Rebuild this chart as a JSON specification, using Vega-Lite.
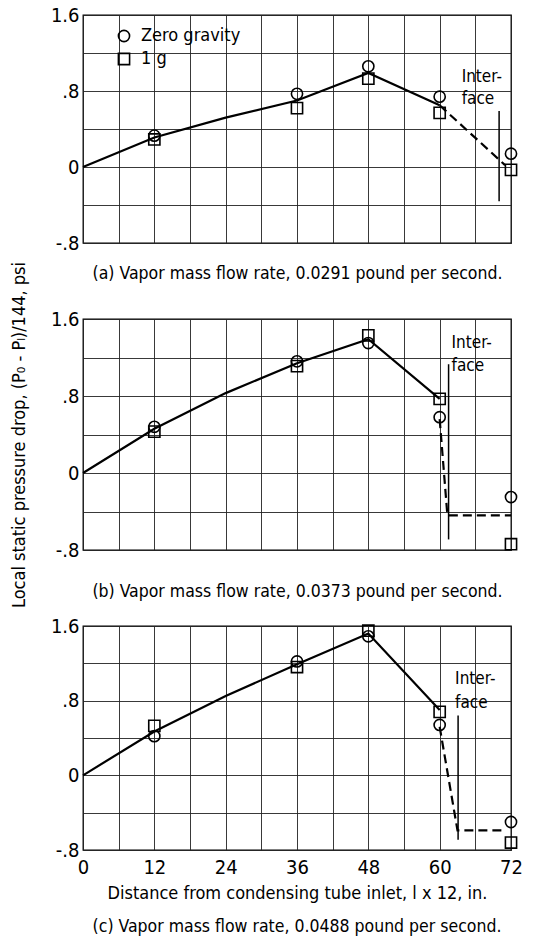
{
  "$schema": "https://vega.github.io/schema/vega-lite/v6.json",
  "background": "white",
  "padding": {"top": 4, "left": 9, "right": 10, "bottom": 4},
  "spacing": 76,
  "bounds": "flush",
  "config": {
    "font": "Liberation Sans Narrow, DejaVu Sans Condensed, sans-serif",
    "view": {"stroke": "black", "strokeWidth": 1.3},
    "axis": {"grid": true, "gridColor": "#222", "gridWidth": 0.9, "gridOpacity": 1, "ticks": false, "domain": false, "labelFontSize": 20, "labelColor": "black", "titleColor": "black", "titleFontSize": 18, "titleFontWeight": "normal", "labelFont": "Liberation Sans Narrow, DejaVu Sans Condensed, sans-serif", "titleFont": "Liberation Sans Narrow, DejaVu Sans Condensed, sans-serif"},
    "title": {"fontSize": 17.5, "fontWeight": "normal", "color": "black", "font": "Liberation Sans Narrow, DejaVu Sans Condensed, sans-serif"},
    "legend": {"labelFontSize": 18, "labelColor": "black", "labelFont": "Liberation Sans Narrow, DejaVu Sans Condensed, sans-serif"}
  },
  "resolve": {"legend": {"shape": "independent"}, "scale": {"shape": "independent"}},
  "datasets": {
    "pts": [
      {"panel": "a", "series": "Zero gravity", "x": 12, "y": 0.33},
      {"panel": "a", "series": "Zero gravity", "x": 36, "y": 0.77},
      {"panel": "a", "series": "Zero gravity", "x": 48, "y": 1.06},
      {"panel": "a", "series": "Zero gravity", "x": 60, "y": 0.74},
      {"panel": "a", "series": "Zero gravity", "x": 72, "y": 0.14},
      {"panel": "a", "series": "1 g", "x": 12, "y": 0.29},
      {"panel": "a", "series": "1 g", "x": 36, "y": 0.62},
      {"panel": "a", "series": "1 g", "x": 48, "y": 0.93},
      {"panel": "a", "series": "1 g", "x": 60, "y": 0.57},
      {"panel": "a", "series": "1 g", "x": 72, "y": -0.03},
      {"panel": "b", "series": "Zero gravity", "x": 12, "y": 0.48},
      {"panel": "b", "series": "Zero gravity", "x": 36, "y": 1.16},
      {"panel": "b", "series": "Zero gravity", "x": 48, "y": 1.35},
      {"panel": "b", "series": "Zero gravity", "x": 60, "y": 0.58},
      {"panel": "b", "series": "Zero gravity", "x": 72, "y": -0.25},
      {"panel": "b", "series": "1 g", "x": 12, "y": 0.43},
      {"panel": "b", "series": "1 g", "x": 36, "y": 1.11},
      {"panel": "b", "series": "1 g", "x": 48, "y": 1.43},
      {"panel": "b", "series": "1 g", "x": 60, "y": 0.77},
      {"panel": "b", "series": "1 g", "x": 72, "y": -0.74},
      {"panel": "c", "series": "Zero gravity", "x": 12, "y": 0.42},
      {"panel": "c", "series": "Zero gravity", "x": 36, "y": 1.22},
      {"panel": "c", "series": "Zero gravity", "x": 48, "y": 1.49},
      {"panel": "c", "series": "Zero gravity", "x": 60, "y": 0.54},
      {"panel": "c", "series": "Zero gravity", "x": 72, "y": -0.5},
      {"panel": "c", "series": "1 g", "x": 12, "y": 0.53},
      {"panel": "c", "series": "1 g", "x": 36, "y": 1.16},
      {"panel": "c", "series": "1 g", "x": 48, "y": 1.55},
      {"panel": "c", "series": "1 g", "x": 60, "y": 0.68},
      {"panel": "c", "series": "1 g", "x": 72, "y": -0.72}
    ],
    "curves": [
      {"panel": "a", "seg": "solid", "x": 0, "y": 0},
      {"panel": "a", "seg": "solid", "x": 12, "y": 0.31},
      {"panel": "a", "seg": "solid", "x": 24, "y": 0.52},
      {"panel": "a", "seg": "solid", "x": 36, "y": 0.7},
      {"panel": "a", "seg": "solid", "x": 48, "y": 0.99},
      {"panel": "a", "seg": "solid", "x": 60, "y": 0.65},
      {"panel": "a", "seg": "dashed", "x": 60, "y": 0.65},
      {"panel": "a", "seg": "dashed", "x": 71, "y": 0.02},
      {"panel": "b", "seg": "solid", "x": 0, "y": 0},
      {"panel": "b", "seg": "solid", "x": 12, "y": 0.46},
      {"panel": "b", "seg": "solid", "x": 24, "y": 0.83},
      {"panel": "b", "seg": "solid", "x": 36, "y": 1.14},
      {"panel": "b", "seg": "solid", "x": 48, "y": 1.39},
      {"panel": "b", "seg": "solid", "x": 60, "y": 0.77},
      {"panel": "b", "seg": "dashed", "x": 60, "y": 0.56},
      {"panel": "b", "seg": "dashed", "x": 61.3, "y": -0.44},
      {"panel": "b", "seg": "dashed", "x": 72, "y": -0.44},
      {"panel": "c", "seg": "solid", "x": 0, "y": 0},
      {"panel": "c", "seg": "solid", "x": 12, "y": 0.47},
      {"panel": "c", "seg": "solid", "x": 24, "y": 0.85},
      {"panel": "c", "seg": "solid", "x": 36, "y": 1.19},
      {"panel": "c", "seg": "solid", "x": 48, "y": 1.52},
      {"panel": "c", "seg": "solid", "x": 60, "y": 0.7},
      {"panel": "c", "seg": "dashed", "x": 60, "y": 0.52},
      {"panel": "c", "seg": "dashed", "x": 63, "y": -0.59},
      {"panel": "c", "seg": "dashed", "x": 71, "y": -0.59}
    ],
    "iface": [
      {"panel": "a", "x": 70, "y": 0.59, "y2": -0.36},
      {"panel": "b", "x": 61.5, "y": 1.13, "y2": -0.69},
      {"panel": "c", "x": 63.1, "y": 0.64, "y2": -0.69}
    ],
    "labels": [
      {"panel": "a", "x": 63.7, "y": 0.95, "text": "Inter-"},
      {"panel": "a", "x": 63.7, "y": 0.72, "text": "face"},
      {"panel": "b", "x": 62, "y": 1.35, "text": "Inter-"},
      {"panel": "b", "x": 62, "y": 1.11, "text": "face"},
      {"panel": "c", "x": 62.6, "y": 1.03, "text": "Inter-"},
      {"panel": "c", "x": 62.6, "y": 0.78, "text": "face"}
    ]
  },
  "vconcat": [
    {
      "width": 428, "height": 228,
      "layer": [
        {"mark": {"type": "rule", "color": "black", "strokeWidth": 2.2}, "encoding": {"y": {"datum": 0, "type": "quantitative", "scale": {"domain": [-0.8, 1.6], "nice": false, "zero": false}, "axis": {"title": null, "grid": true, "tickCount": 20, "values": [-0.8, -0.4, 0, 0.4, 0.8, 1.2, 1.6], "labelExpr": "datum.value == 1.6 ? '1.6' : datum.value == 0.8 ? '.8' : datum.value == 0 ? '0' : datum.value == -0.8 ? '-.8' : ''", "labelPadding": 4}}, "x": {"datum": 0, "type": "quantitative", "scale": {"domain": [0, 72], "nice": false}, "axis": {"title": "(a) Vapor mass flow rate, 0.0291 pound per second.", "titleFontSize": 17.5, "titlePadding": 21, "grid": true, "tickCount": 20, "values": [0, 6, 12, 18, 24, 30, 36, 42, 48, 54, 60, 66, 72], "labels": false}}, "x2": {"datum": 72}}},
        {"data": {"name": "curves"}, "transform": [{"filter": "datum.panel == 'a' && datum.seg == 'solid'"}], "mark": {"type": "line", "color": "black", "strokeWidth": 2.2}, "encoding": {"x": {"field": "x", "type": "quantitative"}, "y": {"field": "y", "type": "quantitative"}}},
        {"data": {"name": "curves"}, "transform": [{"filter": "datum.panel == 'a' && datum.seg == 'dashed'"}], "mark": {"type": "line", "color": "black", "strokeWidth": 2.2, "strokeDash": [9, 5]}, "encoding": {"x": {"field": "x", "type": "quantitative"}, "y": {"field": "y", "type": "quantitative"}}},
        {"data": {"name": "iface"}, "transform": [{"filter": "datum.panel == 'a'"}], "mark": {"type": "rule", "color": "black", "strokeWidth": 1.5}, "encoding": {"x": {"field": "x", "type": "quantitative"}, "y": {"field": "y", "type": "quantitative"}, "y2": {"field": "y2"}}},
        {"data": {"name": "labels"}, "transform": [{"filter": "datum.panel == 'a'"}], "mark": {"type": "text", "align": "left", "baseline": "middle", "fontSize": 17, "color": "black"}, "encoding": {"x": {"field": "x", "type": "quantitative"}, "y": {"field": "y", "type": "quantitative"}, "text": {"field": "text"}}},
        {"data": {"name": "pts"}, "transform": [{"filter": "datum.panel == 'a'"}], "mark": {"type": "point", "filled": false, "color": "black", "strokeWidth": 1.6, "size": 125, "opacity": 1}, "encoding": {"x": {"field": "x", "type": "quantitative"}, "y": {"field": "y", "type": "quantitative"}, "shape": {"field": "series", "type": "nominal", "scale": {"domain": ["Zero gravity", "1 g"], "range": ["circle", "square"]}, "legend": {"title": null, "orient": "none", "legendX": 32, "legendY": 12, "symbolStrokeColor": "black", "symbolStrokeWidth": 1.6, "symbolSize": 125, "symbolFillColor": "transparent", "rowPadding": 5, "labelOffset": 8}}}}
      ]
    },
    {
      "width": 428, "height": 231,
      "layer": [
        {"mark": {"type": "rule", "color": "black", "strokeWidth": 2.2}, "encoding": {"y": {"datum": 0, "type": "quantitative", "scale": {"domain": [-0.8, 1.6], "nice": false, "zero": false}, "axis": {"title": "Local static pressure drop, (P₀ - Pₗ)/144, psi", "grid": true, "tickCount": 20, "titlePadding": 22, "values": [-0.8, -0.4, 0, 0.4, 0.8, 1.2, 1.6], "labelExpr": "datum.value == 1.6 ? '1.6' : datum.value == 0.8 ? '.8' : datum.value == 0 ? '0' : datum.value == -0.8 ? '-.8' : ''", "labelPadding": 4}}, "x": {"datum": 0, "type": "quantitative", "scale": {"domain": [0, 72], "nice": false}, "axis": {"title": "(b) Vapor mass flow rate, 0.0373 pound per second.", "titleFontSize": 17.5, "titlePadding": 32, "grid": true, "tickCount": 20, "values": [0, 6, 12, 18, 24, 30, 36, 42, 48, 54, 60, 66, 72], "labels": false}}, "x2": {"datum": 72}}},
        {"data": {"name": "curves"}, "transform": [{"filter": "datum.panel == 'b' && datum.seg == 'solid'"}], "mark": {"type": "line", "color": "black", "strokeWidth": 2.2}, "encoding": {"x": {"field": "x", "type": "quantitative"}, "y": {"field": "y", "type": "quantitative"}}},
        {"data": {"name": "curves"}, "transform": [{"filter": "datum.panel == 'b' && datum.seg == 'dashed'"}], "mark": {"type": "line", "color": "black", "strokeWidth": 2.2, "strokeDash": [9, 5]}, "encoding": {"x": {"field": "x", "type": "quantitative"}, "y": {"field": "y", "type": "quantitative"}}},
        {"data": {"name": "iface"}, "transform": [{"filter": "datum.panel == 'b'"}], "mark": {"type": "rule", "color": "black", "strokeWidth": 1.5}, "encoding": {"x": {"field": "x", "type": "quantitative"}, "y": {"field": "y", "type": "quantitative"}, "y2": {"field": "y2"}}},
        {"data": {"name": "labels"}, "transform": [{"filter": "datum.panel == 'b'"}], "mark": {"type": "text", "align": "left", "baseline": "middle", "fontSize": 17, "color": "black"}, "encoding": {"x": {"field": "x", "type": "quantitative"}, "y": {"field": "y", "type": "quantitative"}, "text": {"field": "text"}}},
        {"data": {"name": "pts"}, "transform": [{"filter": "datum.panel == 'b'"}], "mark": {"type": "point", "filled": false, "color": "black", "strokeWidth": 1.6, "size": 125, "opacity": 1}, "encoding": {"x": {"field": "x", "type": "quantitative"}, "y": {"field": "y", "type": "quantitative"}, "shape": {"field": "series", "type": "nominal", "scale": {"domain": ["Zero gravity", "1 g"], "range": ["circle", "square"]}, "legend": null}}}
      ]
    },
    {
      "width": 428, "height": 224,
      "title": {"text": "(c) Vapor mass flow rate, 0.0488 pound per second.", "orient": "bottom", "offset": 16},
      "layer": [
        {"mark": {"type": "rule", "color": "black", "strokeWidth": 2.2}, "encoding": {"y": {"datum": 0, "type": "quantitative", "scale": {"domain": [-0.8, 1.6], "nice": false, "zero": false}, "axis": {"title": null, "grid": true, "tickCount": 20, "values": [-0.8, -0.4, 0, 0.4, 0.8, 1.2, 1.6], "labelExpr": "datum.value == 1.6 ? '1.6' : datum.value == 0.8 ? '.8' : datum.value == 0 ? '0' : datum.value == -0.8 ? '-.8' : ''", "labelPadding": 4}}, "x": {"datum": 0, "type": "quantitative", "scale": {"domain": [0, 72], "nice": false}, "axis": {"title": "Distance from condensing tube inlet, l x 12, in.", "grid": true, "tickCount": 20, "titlePadding": 7, "values": [0, 6, 12, 18, 24, 30, 36, 42, 48, 54, 60, 66, 72], "labelExpr": "datum.value % 12 == 0 ? datum.label : ''", "labelPadding": 7, "labelFlush": false}}, "x2": {"datum": 72}}},
        {"data": {"name": "curves"}, "transform": [{"filter": "datum.panel == 'c' && datum.seg == 'solid'"}], "mark": {"type": "line", "color": "black", "strokeWidth": 2.2}, "encoding": {"x": {"field": "x", "type": "quantitative"}, "y": {"field": "y", "type": "quantitative"}}},
        {"data": {"name": "curves"}, "transform": [{"filter": "datum.panel == 'c' && datum.seg == 'dashed'"}], "mark": {"type": "line", "color": "black", "strokeWidth": 2.2, "strokeDash": [9, 5]}, "encoding": {"x": {"field": "x", "type": "quantitative"}, "y": {"field": "y", "type": "quantitative"}}},
        {"data": {"name": "iface"}, "transform": [{"filter": "datum.panel == 'c'"}], "mark": {"type": "rule", "color": "black", "strokeWidth": 1.5}, "encoding": {"x": {"field": "x", "type": "quantitative"}, "y": {"field": "y", "type": "quantitative"}, "y2": {"field": "y2"}}},
        {"data": {"name": "labels"}, "transform": [{"filter": "datum.panel == 'c'"}], "mark": {"type": "text", "align": "left", "baseline": "middle", "fontSize": 17, "color": "black"}, "encoding": {"x": {"field": "x", "type": "quantitative"}, "y": {"field": "y", "type": "quantitative"}, "text": {"field": "text"}}},
        {"data": {"name": "pts"}, "transform": [{"filter": "datum.panel == 'c'"}], "mark": {"type": "point", "filled": false, "color": "black", "strokeWidth": 1.6, "size": 125, "opacity": 1}, "encoding": {"x": {"field": "x", "type": "quantitative"}, "y": {"field": "y", "type": "quantitative"}, "shape": {"field": "series", "type": "nominal", "scale": {"domain": ["Zero gravity", "1 g"], "range": ["circle", "square"]}, "legend": null}}}
      ]
    }
  ]
}
